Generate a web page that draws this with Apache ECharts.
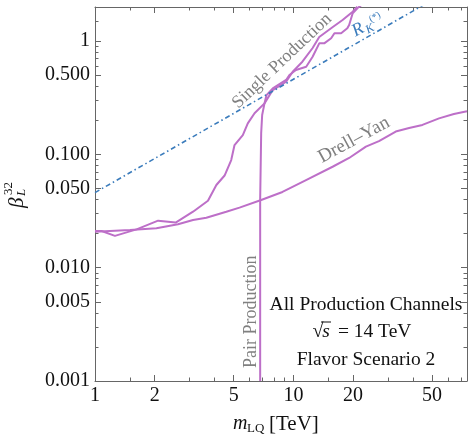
<!DOCTYPE html>
<html><head><meta charset="utf-8">
<script src="https://cdn.jsdelivr.net/npm/echarts@6/dist/echarts.min.js"></script>
<style>html,body{margin:0;padding:0;background:#fff}#c{width:468px;height:436px}</style>
</head><body><div id="c"></div>
<script>
// ---- tick values ----
const xMajorTicks = [1, 2, 5, 10, 20, 50];
const xMinorTicks = [1.5, 3, 4, 6, 7, 8, 9, 15, 30, 40, 60, 70];
const yMajorTicks = [0.001, 0.005, 0.01, 0.05, 0.1, 0.5, 1];
const yMinorTicks = [0.002, 0.003, 0.004, 0.006, 0.007, 0.008, 0.009,
  0.02, 0.03, 0.04, 0.06, 0.07, 0.08, 0.09,
  0.2, 0.3, 0.4, 0.6, 0.7, 0.8, 0.9, 1.5];

// ---- series values [m_LQ (TeV), beta_L^32] ----
const drellYan = [[1, 0.0208], [1.5, 0.0215], [2.04, 0.0223], [2.62, 0.0242], [3.12, 0.0264],
  [3.64, 0.0276], [4.59, 0.0312], [5.35, 0.0339], [6.88, 0.0396], [8.81, 0.0466],
  [11.58, 0.0594], [15.76, 0.0778], [19.1, 0.093], [23.2, 0.117], [27.0, 0.131],
  [32.8, 0.159], [38.3, 0.171], [44.7, 0.182], [54.2, 0.208], [64.4, 0.227], [75, 0.24]];
const singleProd = [[1, 0.0211], [1.08, 0.0211], [1.26, 0.0191], [1.62, 0.0218], [2.08, 0.026],
  [2.55, 0.025], [3.12, 0.0312], [3.71, 0.039], [4.09, 0.0537], [4.5, 0.0651], [4.86, 0.0892],
  [5.05, 0.121], [5.56, 0.148], [5.89, 0.188], [6.37, 0.231], [7.15, 0.282], [7.87, 0.37],
  [9.19, 0.438], [9.92, 0.537], [11.1, 0.658], [12.5, 0.869], [13.5, 1.087], [15.8, 1.332],
  [17.7, 1.536], [19.9, 1.818], [21.0, 2.01]];
const pairProd = [[6.8, 0.001], [6.8, 0.0396], [6.88, 0.154], [6.96, 0.223], [7.15, 0.282],
  [7.32, 0.334], [7.87, 0.383], [9.19, 0.454], [9.55, 0.502], [10.3, 0.556], [11.6, 0.594],
  [12.5, 0.728], [13.5, 0.955], [14.3, 0.955], [15.5, 1.059], [16.1, 1.172], [17.4, 1.172],
  [18.7, 1.297], [19.1, 1.387], [19.9, 1.76], [21.0, 1.95], [22.0, 2.08]];
const rK = [[1, 0.046], [50, 2.3]];

const frameColor = '#666';
const serif = '"Liberation Serif", "DejaVu Serif", serif';
const purple = '#bd6fc8';
const blue = '#3b7cbc';
const gray = '#808080';

function xAx(pos, ticks, len, labels, line) {
  return {
    type: 'log', logBase: 10, min: 1, max: 75, position: pos, gridIndex: 0,
    axisLine: { show: line, lineStyle: { color: frameColor, width: 1 } },
    axisTick: { show: true, inside: true, length: len, customValues: ticks,
      lineStyle: { color: frameColor, width: 1 } },
    axisLabel: labels ? { show: true, customValues: ticks, margin: 5,
      fontFamily: serif, fontSize: 20, color: '#111', formatter: v => String(v) } : { show: false },
    splitLine: { show: false }, minorTick: { show: false }, minorSplitLine: { show: false }
  };
}
function yAx(pos, ticks, len, labels, line) {
  return {
    type: 'log', logBase: 10, min: 0.001, max: 2, position: pos, gridIndex: 0,
    axisLine: { show: line, lineStyle: { color: frameColor, width: 1 } },
    axisTick: { show: true, inside: true, length: len, customValues: ticks,
      lineStyle: { color: frameColor, width: 1 } },
    axisLabel: labels ? { show: true, customValues: ticks, margin: 5,
      fontFamily: serif, fontSize: 20, color: '#111',
      formatter: v => (v >= 1 ? String(Math.round(v)) : v.toFixed(3)) } : { show: false },
    splitLine: { show: false }, minorTick: { show: false }, minorSplitLine: { show: false }
  };
}

function txt(x, y, text, font, fill, rot, align) {
  return { type: 'text', x: x, y: y, rotation: (rot || 0) * Math.PI / 180, silent: true,
    style: { text: text, font: font, fill: fill, textAlign: align || 'center',
      textVerticalAlign: 'middle', align: align || 'center', verticalAlign: 'middle' } };
}

const chart = echarts.init(document.getElementById('c'), null, { renderer: 'canvas' });
chart.setOption({
  animation: false,
  backgroundColor: '#fff',
  grid: { left: 95, right: 1, top: 7, bottom: 55, containLabel: false, outerBoundsMode: 'none' },
  xAxis: [
    xAx('bottom', xMajorTicks, 6, true, true),
    xAx('bottom', xMinorTicks, 3.5, false, false),
    xAx('top', xMajorTicks, 6, false, true),
    xAx('top', xMinorTicks, 3.5, false, false)
  ],
  yAxis: [
    yAx('left', yMajorTicks, 6, true, true),
    yAx('left', yMinorTicks, 3.5, false, false),
    yAx('right', yMajorTicks, 6, false, true),
    yAx('right', yMinorTicks, 3.5, false, false)
  ],
  series: [
    { name: 'R_K', type: 'line', data: rK, showSymbol: false, clip: true, z: 3,
      lineStyle: { color: blue, width: 1.6, type: [5, 3, 1.5, 3] } },
    { name: 'Drell-Yan', type: 'line', data: drellYan, showSymbol: false, clip: true, z: 2,
      lineStyle: { color: purple, width: 2 } },
    { name: 'Single Production', type: 'line', data: singleProd, showSymbol: false, clip: true, z: 2,
      lineStyle: { color: purple, width: 2 } },
    { name: 'Pair Production', type: 'line', data: pairProd, showSymbol: false, clip: true, z: 2,
      lineStyle: { color: purple, width: 2 } }
  ],
  graphic: [
    txt(282, 61, 'Single Production', '18px ' + serif, gray, 43.5),
    txt(354, 140, 'Drell\u2013Yan', '19px ' + serif, gray, 28.6),
    txt(251.5, 311.7, 'Pair Production', '18px ' + serif, gray, 90),
    { type: 'group', x: 358, y: 30, rotation: 29 * Math.PI / 180, silent: true, children: [
      txt(0, 0, 'R', 'italic 18px ' + serif, blue),
      txt(11, 5, 'K', 'italic 12px ' + serif, blue),
      txt(21, -3, '(*)', '10px ' + serif, blue)
    ] },
    txt(366, 305, 'All Production Channels', '19.5px ' + serif, '#111'),
    txt(318, 332, '\u221A', '20px ' + serif, '#111', 0, 'center'),
    txt(326, 332, 's', 'italic 19.5px ' + serif, '#111', 0, 'center'),
    { type: 'line', silent: true, shape: { x1: 321, y1: 322, x2: 331, y2: 322 },
      style: { stroke: '#111', lineWidth: 1 } },
    txt(333, 332, ' = 14 TeV', '19.5px ' + serif, '#111', 0, 'left'),
    txt(366, 360, 'Flavor Scenario 2', '19.5px ' + serif, '#111'),
    { type: 'group', x: 17, y: 208, rotation: Math.PI / 2, silent: true, children: [
      txt(0, 0, '\u03B2', 'italic 21px ' + serif, '#111', 0, 'left'),
      txt(12, 5, 'L', 'italic 13px ' + serif, '#111', 0, 'left'),
      txt(13, -8, '32', '13px ' + serif, '#111', 0, 'left')
    ] },
    txt(233, 424, 'm', 'italic 20px ' + serif, '#111', 0, 'left'),
    txt(247, 429, 'LQ', '13px ' + serif, '#111', 0, 'left'),
    txt(269, 424, '[TeV]', '21px ' + serif, '#111', 0, 'left')
  ]
});
</script></body></html>
